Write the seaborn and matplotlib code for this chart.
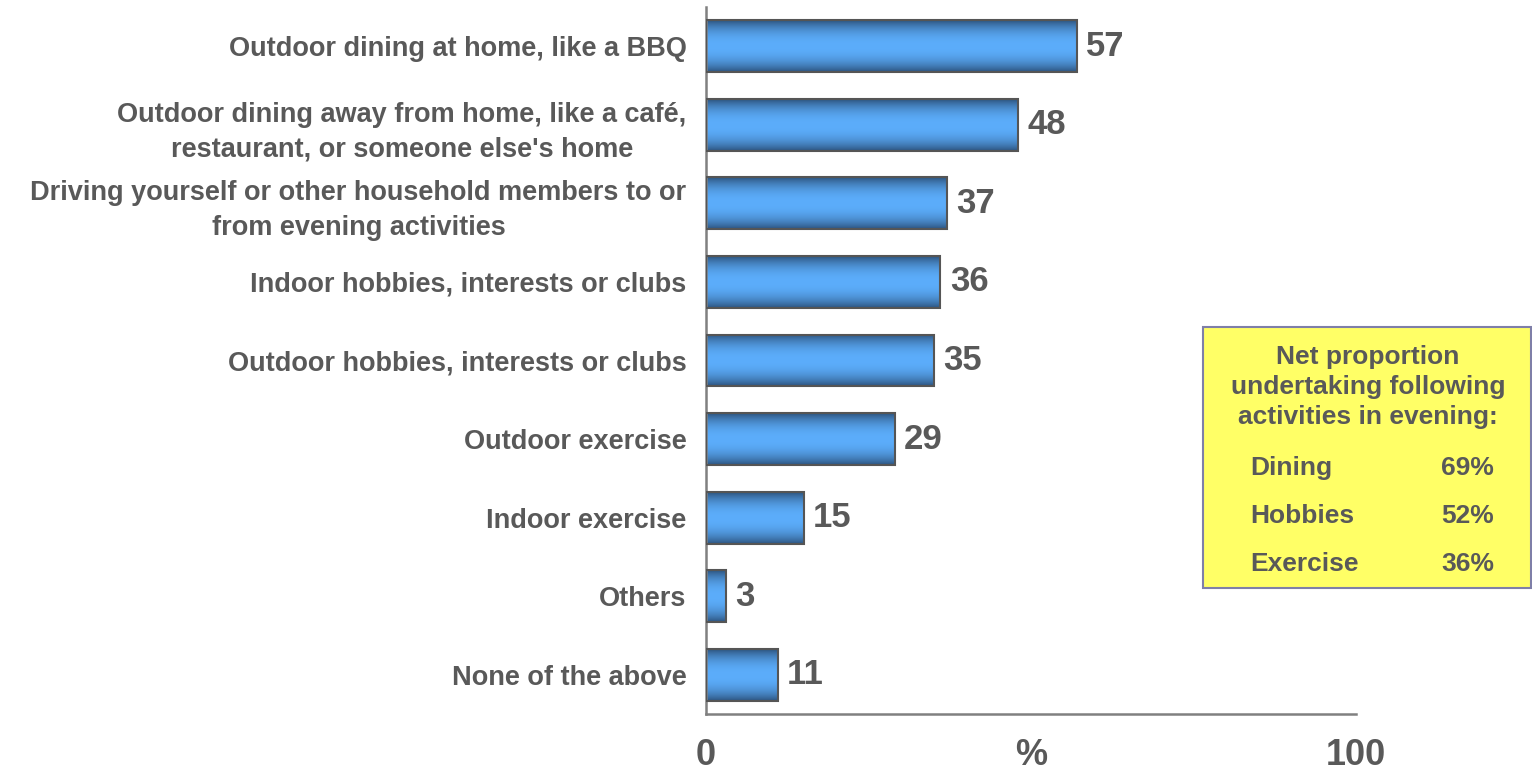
import numpy as np
import pandas as pd
import matplotlib
matplotlib.use("Agg")
import matplotlib.pyplot as plt
from matplotlib.patches import Rectangle
from matplotlib.colors import to_rgb
import seaborn as sns

categories = [
    "Outdoor dining at home, like a BBQ",
    "Outdoor dining away from home, like a café,\nrestaurant, or someone else's home",
    "Driving yourself or other household members to or\nfrom evening activities",
    "Indoor hobbies, interests or clubs",
    "Outdoor hobbies, interests or clubs",
    "Outdoor exercise",
    "Indoor exercise",
    "Others",
    "None of the above",
]
values = [57, 48, 37, 36, 35, 29, 15, 3, 11]

box_title = "Net proportion\nundertaking following\nactivities in evening:"
box_labels = ["Dining", "Hobbies", "Exercise"]
box_values = ["69%", "52%", "36%"]

TEXT = "#595959"
AXC = "#808080"

sns.set_style("white")
plt.rcParams["font.family"] = ["Liberation Sans", "DejaVu Sans"]
plt.rcParams["font.weight"] = "bold"

fig = plt.figure(figsize=(15.32, 7.8), dpi=100)
ax = fig.add_axes([706 / 1532, 1 - 714 / 780, 650 / 1532, 707 / 780])

df = pd.DataFrame({"cat": categories, "val": values})
sns.barplot(data=df, x="val", y="cat", orient="h", color="#5aabfa",
            edgecolor="#555555", linewidth=1.5, width=0.66, ax=ax)

# gradient fill for each bar
light = np.array(to_rgb("#5cadfb"))
dark = np.array(to_rgb("#2d5580"))
t = np.linspace(0, 1, 100)
f = np.abs(2 * t - 1) ** 2.2
grad = light[None, :] * (1 - f[:, None]) + dark[None, :] * f[:, None]
grad = grad[:, None, :]
for p in ax.patches:
    x0, y0 = p.get_x(), p.get_y()
    w, h = p.get_width(), p.get_height()
    im = ax.imshow(grad, extent=(x0, x0 + w, y0 + h, y0), aspect="auto",
                   zorder=2, interpolation="bilinear")
    im.set_clip_path(p)
    p.set_facecolor("none")
    p.set_zorder(3)

ax.set_xlim(0, 100)
ax.set_ylim(len(categories) - 0.5, -0.5)

for i, v in enumerate(values):
    ax.annotate(str(v), xy=(v, i), xytext=(7, 0), textcoords="offset points",
                ha="left", va="center", fontsize=25, fontweight="bold", color=TEXT)

sns.despine(ax=ax, top=True, right=True)
for s in ["left", "bottom"]:
    ax.spines[s].set_color(AXC)
    ax.spines[s].set_linewidth(1.8)

ax.set_xlabel("")
ax.set_ylabel("")

# y: labels at centers, tick marks at boundaries
ax.set_yticks(range(len(categories)))
ax.set_yticklabels(categories, fontsize=19.5, fontweight="bold", color=TEXT,
                   multialignment="center", linespacing=1.45)
ax.set_yticks(np.arange(-0.5, len(categories), 1.0), minor=True)
ax.tick_params(axis="y", which="major", length=0, pad=14)
ax.tick_params(axis="y", which="minor", length=7, width=1.5, color=AXC, direction="out")

ax.set_xticks([0, 50, 100])
ax.set_xticklabels(["0", "%", "100"], fontsize=26, fontweight="bold", color=TEXT)
ax.tick_params(axis="x", which="major", length=6, width=1.5, color=AXC, pad=11)
ax.xaxis.get_major_ticks()[1].tick1line.set_visible(False)
ax.grid(False)

# info box
bx0, by0, bx1, by1 = 1203, 327, 1531, 588
fig.add_artist(Rectangle((bx0 / 1532, 1 - by1 / 780), (bx1 - bx0) / 1532, (by1 - by0) / 780,
                         transform=fig.transFigure, facecolor="#ffff66",
                         edgecolor="#7f7fa8", linewidth=1.5))
fig.text(1368 / 1532, 1 - 387 / 780, box_title, ha="center", va="center",
         fontsize=19, fontweight="bold", color=TEXT, linespacing=1.32)
for k, (lab, val) in enumerate(zip(box_labels, box_values)):
    yy = 1 - (468 + 48 * k) / 780
    fig.text(1250 / 1532, yy, lab, ha="left", va="center", fontsize=19,
             fontweight="bold", color=TEXT)
    fig.text(1494 / 1532, yy, val, ha="right", va="center", fontsize=19,
             fontweight="bold", color=TEXT)

fig.savefig("out.png", dpi=100)
